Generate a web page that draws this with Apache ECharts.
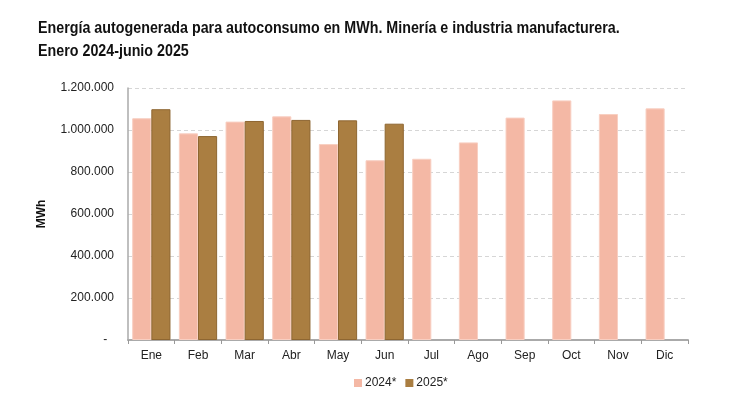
<!DOCTYPE html>
<html><head><meta charset="utf-8">
<script src="https://cdn.jsdelivr.net/npm/echarts@6/dist/echarts.min.js"></script>
<style>html,body{margin:0;padding:0;background:#fff}#c{width:730px;height:409px}</style>
</head><body><div id="c"></div>
<script>
const categories = ['Ene','Feb','Mar','Abr','May','Jun','Jul','Ago','Sep','Oct','Nov','Dic'];
const values2024 = [1056000, 984000, 1040000, 1065000, 933000, 856000, 863000, 941000, 1059000, 1141000, 1076000, 1103000];
const values2025 = [1099000, 971000, 1043000, 1048000, 1046000, 1030000, null, null, null, null, null, null];
const titleLines = ['Energía autogenerada para autoconsumo en MWh. Minería e industria manufacturera.', 'Enero 2024-junio 2025'];

const chart = echarts.init(document.getElementById('c'));
const fmt = v => v === 0 ? '-  ' : String(v).replace(/\B(?=(\d{3})+(?!\d))/g, '.');
chart.setOption({
  animation: false,
  graphic: [{
    type: 'text', x: 38, y: 17, scaleX: 0.84,
    style: {
      text: titleLines.join('\n'),
      font: 'bold 17px "Liberation Sans", Arial, sans-serif',
      fill: '#111', lineHeight: 23, verticalAlign: 'top'
    }
  }],
  legend: {
    data: ['2024*', '2025*'],
    top: 372, left: 349, itemWidth: 8, itemHeight: 8, itemGap: 9,
    icon: 'rect', itemStyle: { borderWidth: 0 },
    textStyle: { fontFamily: 'Liberation Sans, Arial, sans-serif', fontSize: 12, color: '#222', padding: [0,0,0,-2] }
  },
  grid: { left: 128, right: 42, top: 88, bottom: 69 },
  xAxis: {
    type: 'category', data: categories,
    axisLine: { lineStyle: { color: '#aaa', width: 2 } },
    axisTick: { show: true, alignWithLabel: false, length: 4, lineStyle: { color: '#999' } },
    axisLabel: { fontFamily: 'Liberation Sans, Arial, sans-serif', fontSize: 12, color: '#222', margin: 10 }
  },
  yAxis: {
    type: 'value', min: 0, max: 1200000, interval: 200000,
    name: 'MWh', nameLocation: 'middle', nameGap: 80,
    nameTextStyle: { fontFamily: 'Liberation Sans, Arial, sans-serif', fontSize: 12, fontWeight: 'bold', color: '#111' },
    axisLine: { show: true, lineStyle: { color: '#aaa', width: 1.5 } },
    axisTick: { show: false },
    splitLine: { lineStyle: { color: '#d6d6d6', type: [4, 3] } },
    axisLabel: { fontFamily: 'Liberation Sans, Arial, sans-serif', fontSize: 12, color: '#222', margin: 14, formatter: fmt }
  },
  series: [
    { name: '2024*', type: 'bar', data: values2024, barGap: '0%', barCategoryGap: '18%',
      itemStyle: { color: '#F4B8A5', borderColor: '#F8CFC2', borderWidth: 1 } },
    { name: '2025*', type: 'bar', data: values2025,
      itemStyle: { color: '#AA7E41', borderColor: '#8E6631', borderWidth: 1 } }
  ]
});
</script></body></html>
